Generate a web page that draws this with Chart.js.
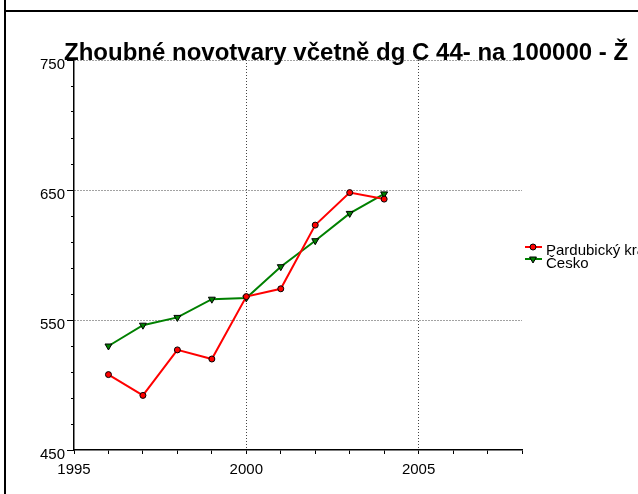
<!DOCTYPE html>
<html>
<head>
<meta charset="utf-8">
<script src="https://cdn.jsdelivr.net/npm/chart.js@4/dist/chart.umd.min.js"></script>
<style>
  html, body { margin: 0; padding: 0; background: #fff; }
  #wrap { position: relative; width: 638px; height: 494px; overflow: hidden; }
  .fr { position: absolute; background: #000; }
</style>
</head>
<body>
<div id="wrap">
  <canvas id="c"></canvas>
  <div class="fr" style="left:4px;top:0;width:2px;height:494px"></div>
  <div class="fr" style="left:4px;top:10px;width:634px;height:2px"></div>
</div>
<script>
'use strict';
// roky a hodnoty (na 100 000 obyvatel)
const years = [1996, 1997, 1998, 1999, 2000, 2001, 2002, 2003, 2004];
const pardubicky = [508, 492, 527, 520, 568, 574, 623, 648, 643];
const cesko = [530, 546, 552, 566, 567, 591, 611, 632, 647];
const seriesNames = ['Pardubický kraj', 'Česko'];
const titleText = 'Zhoubné novotvary včetně dg C 44- na 100000 - Ž';
const yLabels = [450, 550, 650, 750];
const xLabels = [1995, 2000, 2005];
const gridY = [550, 650, 750];
const gridX = [2000, 2005];

const FONT = '"Liberation Sans", Arial, sans-serif';

const titlePlugin = {
  id: 'titlePlugin',
  afterDraw(chart) {
    const { ctx } = chart;
    ctx.save();
    ctx.font = 'bold 24px ' + FONT;
    ctx.fillStyle = '#000';
    ctx.textBaseline = 'alphabetic';
    ctx.fillText(titleText, 64, 60);
    ctx.restore();
  },
};

// delší značky u popsaných hodnot osy y
const majorTicks = {
  id: 'majorTicks',
  afterDatasetsDraw(chart) {
    const { ctx } = chart;
    const ys = chart.scales.y;
    ctx.save();
    ctx.strokeStyle = '#000';
    ctx.lineWidth = 1;
    yLabels.forEach(v => {
      const p = Math.round(ys.getPixelForValue(v)) + 0.5;
      ctx.beginPath(); ctx.moveTo(ys.right - 7, p); ctx.lineTo(ys.right, p); ctx.stroke();
    });
    ctx.restore();
  },
};

// legenda vpravo vedle grafu, texty se překrývají jako v originálu
const legendPlugin = {
  id: 'legendPlugin',
  afterDraw(chart) {
    const { ctx } = chart;
    ctx.save();
    ctx.font = '15px ' + FONT;
    ctx.textBaseline = 'alphabetic';
    chart.data.datasets.forEach((ds, i) => {
      const y = 247 + i * 12;
      ctx.strokeStyle = ds.borderColor;
      ctx.lineWidth = 2;
      ctx.beginPath(); ctx.moveTo(525, y); ctx.lineTo(542, y); ctx.stroke();
      ctx.fillStyle = ds.pointBackgroundColor;
      ctx.strokeStyle = '#000';
      ctx.lineWidth = 1;
      Chart.helpers.drawPoint(ctx, { pointStyle: ds.pointStyle, radius: ds.pointRadius, rotation: ds.pointRotation || 0, borderWidth: 1 }, 533, y);
      ctx.fillStyle = '#000';
      ctx.fillText(seriesNames[i], 546, 255 + i * 13);
    });
    ctx.restore();
  },
};

new Chart(document.getElementById('c'), {
  type: 'line',
  data: {
    datasets: [
      { label: seriesNames[0], data: years.map((y, i) => ({ x: y, y: pardubicky[i] })),
        borderColor: '#ff0000', borderWidth: 2, pointStyle: 'circle', pointRadius: 3,
        pointBackgroundColor: '#ff0000', pointBorderColor: '#000', pointBorderWidth: 1 },
      { label: seriesNames[1], data: years.map((y, i) => ({ x: y, y: cesko[i] })),
        borderColor: '#008000', borderWidth: 2, pointStyle: 'triangle', pointRotation: 180, pointRadius: 4,
        pointBackgroundColor: '#008000', pointBorderColor: '#000', pointBorderWidth: 1 },
    ],
  },
  plugins: [majorTicks, titlePlugin, legendPlugin],
  options: {
    responsive: true, maintainAspectRatio: false, animation: false,
    layout: { padding: { top: 60, right: 116, left: 0, bottom: 0 } },
    elements: { line: { tension: 0 } },
    plugins: { legend: { display: false }, tooltip: { enabled: false } },
    scales: {
      x: {
        type: 'linear', min: 1995, max: 2008,
        afterFit: s => { s.height = 44; },
        ticks: { stepSize: 1, autoSkip: false, maxRotation: 0, padding: 7, color: '#000',
          font: { family: FONT, size: 15 },
          callback: v => xLabels.includes(v) ? String(v) : '' },
        grid: { color: c => gridX.includes(c.tick && c.tick.value) ? '#444' : 'rgba(0,0,0,0)',
          lineWidth: 1, tickLength: 4, tickColor: '#000', tickWidth: 1, tickBorderDash: [] },
        border: { display: true, color: '#000', width: 1.5, dash: [1, 2] },
      },
      y: {
        min: 450, max: 750,
        afterFit: s => { s.width = 74; },
        ticks: { stepSize: 20, autoSkip: false, padding: 6, labelOffset: 5, color: '#000',
          font: { family: FONT, size: 15 },
          callback: v => yLabels.includes(v) ? String(v) : '' },
        grid: { color: c => gridY.includes(c.tick && c.tick.value) ? '#444' : 'rgba(0,0,0,0)',
          lineWidth: 1, tickLength: 3, tickColor: '#000', tickWidth: 1, tickBorderDash: [] },
        border: { display: true, color: '#000', width: 1.5, dash: [1, 2] },
      },
    },
  },
});
</script>
</body>
</html>
